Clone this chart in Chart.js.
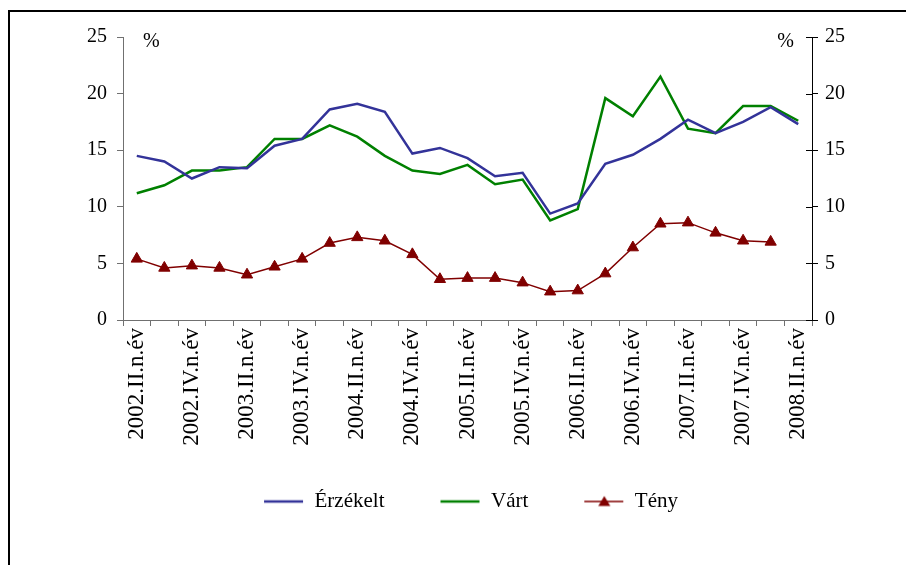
<!DOCTYPE html>
<html>
<head>
<meta charset="utf-8">
<script src="https://cdn.jsdelivr.net/npm/chart.js@4/dist/chart.umd.min.js"></script>
<style>
  body { margin:0; background:#fff; }
  #keret { position:absolute; left:8px; top:10px; width:910px; height:570px;
           border-left:2px solid #000; border-top:2px solid #000; pointer-events:none; }
  canvas { position:absolute; left:0; top:0; }
</style>
</head>
<body>
<canvas id="grafikon" width="906" height="565"></canvas>
<div id="keret"></div>
<script>
const negyedevek = [
  '2002.II.n.év','2002.III.n.év','2002.IV.n.év',
  '2003.I.n.év','2003.II.n.év','2003.III.n.év','2003.IV.n.év',
  '2004.I.n.év','2004.II.n.év','2004.III.n.év','2004.IV.n.év',
  '2005.I.n.év','2005.II.n.év','2005.III.n.év','2005.IV.n.év',
  '2006.I.n.év','2006.II.n.év','2006.III.n.év','2006.IV.n.év',
  '2007.I.n.év','2007.II.n.év','2007.III.n.év','2007.IV.n.év',
  '2008.I.n.év','2008.II.n.év'
];
const erzekelt = [14.5,14.0,12.5,13.5,13.4,15.4,16.0,18.6,19.1,18.4,14.7,15.2,14.3,12.7,13.0,9.4,10.3,13.8,14.6,16.0,17.7,16.5,17.5,18.8,17.3];
const vart     = [11.2,11.9,13.2,13.2,13.5,16.0,16.0,17.2,16.2,14.5,13.2,12.9,13.7,12.0,12.4,8.8,9.8,19.6,18.0,21.5,16.9,16.5,18.9,18.9,17.6];
const teny     = [5.4,4.6,4.8,4.6,4.0,4.7,5.4,6.8,7.3,7.0,5.8,3.6,3.7,3.7,3.3,2.5,2.6,4.1,6.4,8.5,8.6,7.7,7.0,6.9,null];
const yTickek  = [0,5,10,15,20,25];

const BETU = 'Liberation Serif';

// legend ikonok: vonal (elöl üres résszel a térközhöz), a Ténynél háromszöggel
function ikon(szin, vastag, haromszog) {
  const c = document.createElement('canvas');
  c.width = 60; c.height = 14;
  const g = c.getContext('2d');
  g.strokeStyle = szin; g.lineWidth = vastag;
  g.beginPath(); g.moveTo(20,7); g.lineTo(59,7); g.stroke();
  if (haromszog) {
    g.fillStyle = szin;
    g.beginPath(); g.moveTo(40,1.5); g.lineTo(46,11.5); g.lineTo(34,11.5); g.closePath(); g.fill();
  }
  return c;
}
const ikonok = [ikon('#333399',2.5,false), ikon('#008000',2.5,false), ikon('#800000',1.5,true)];

const szazalek = {
  id:'szazalek',
  afterDraw(chart) {
    const ctx = chart.ctx;
    ctx.save();
    ctx.font = '20px "' + BETU + '"';
    ctx.fillStyle = '#000';
    ctx.textBaseline = 'alphabetic';
    ctx.textAlign = 'left';
    ctx.fillText('%', 143, 47);
    ctx.textAlign = 'right';
    ctx.fillText('%', 794, 47);
    // jobb tengely: befelé is nyúló osztások
    const y2 = chart.scales.y2;
    ctx.strokeStyle = '#000'; ctx.lineWidth = 1;
    yTickek.forEach(v => {
      const py = Math.round(y2.getPixelForValue(v)) + 0.5;
      ctx.beginPath(); ctx.moveTo(y2.left - 6, py); ctx.lineTo(y2.left, py); ctx.stroke();
    });
    ctx.restore();
  }
};

const tengelyY = (hely, szin, szel, pad) => ({
  position: hely, min:0, max:25,
  afterBuildTicks: s => { s.ticks = yTickek.map(v => ({value:v})); },
  afterFit: s => { s.width = szel; },
  grid: { drawOnChartArea:false, color:szin, tickLength:6 },
  border: { color:szin, width:1 },
  ticks: { color:'#000', padding:pad, font:{ family:BETU, size:20 } }
});

new Chart(document.getElementById('grafikon'), {
  type:'line',
  data:{
    labels:negyedevek,
    datasets:[
      { label:'Érzékelt', data:erzekelt, borderColor:'#333399', borderWidth:2.5, pointRadius:0, yAxisID:'y' },
      { label:'Várt', data:vart, borderColor:'#008000', borderWidth:2.5, pointRadius:0, yAxisID:'y' },
      { label:'Tény', data:teny, borderColor:'#800000', backgroundColor:'#800000', borderWidth:1.5,
        pointStyle:'triangle', pointRadius:6.5, pointBorderWidth:1, yAxisID:'y' }
    ]
  },
  options:{
    responsive:false, animation:false,
    layout:{ padding:{ left:16, right:0, top:37, bottom:43 } },
    plugins:{
      tooltip:{ enabled:false },
      legend:{
        position:'bottom',
        labels:{
          usePointStyle:true, pointStyleWidth:60, padding:36, color:'#000',
          font:{ family:BETU, size:21 },
          generateLabels: chart => chart.data.datasets.map((d,i) => ({
            text:d.label, pointStyle:ikonok[i], datasetIndex:i, hidden:false,
            fillStyle:d.borderColor, strokeStyle:d.borderColor, lineWidth:0, fontColor:'#000'
          }))
        }
      }
    },
    scales:{
      x:{
        offset:true,
        afterFit: s => { s.height = 135; },
        grid:{ drawOnChartArea:false, color:'#707070', tickLength:6, offset:true },
        border:{ color:'#707070', width:1 },
        ticks:{
          autoSkip:false, minRotation:90, maxRotation:90, padding:2, color:'#000',
          font:{ family:BETU, size:23 },
          callback:(v,i) => i % 2 === 0 ? negyedevek[i] : ''
        }
      },
      y: tengelyY('left','#707070',107,10),
      y2: tengelyY('right','#000',94,7)
    }
  },
  plugins:[szazalek]
});
</script>
</body>
</html>
